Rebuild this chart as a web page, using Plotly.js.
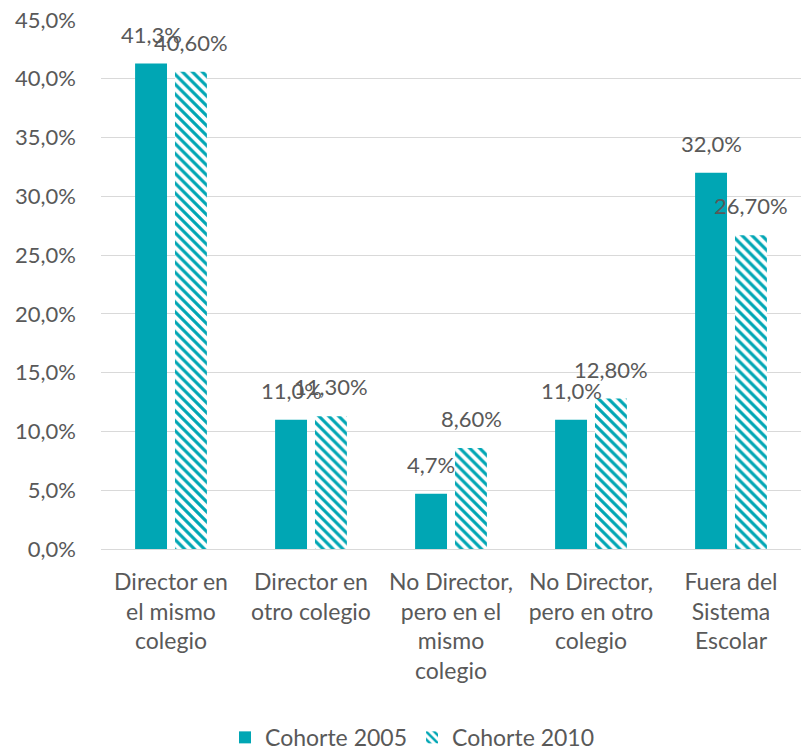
<!DOCTYPE html>
<html>
<head>
<meta charset="utf-8">
<script src="https://cdn.plot.ly/plotly-3.0.1.min.js"></script>
<style>html,body{margin:0;padding:0;background:#fff;}#chart{width:801px;height:754px;}</style>
</head>
<body>
<div id="chart"></div>
<script>
var categories = [
  "Director en<br>el mismo<br>colegio",
  "Director en<br>otro colegio",
  "No Director,<br>pero en el<br>mismo<br>colegio",
  "No Director,<br>pero en otro<br>colegio",
  "Fuera del<br>Sistema<br>Escolar"
];
var cohorte2005 = [41.3, 11.0, 4.7, 11.0, 32.0];
var cohorte2010 = [40.6, 11.3, 8.6, 12.8, 26.7];
var labels2005 = ["41,3%", "11,0%", "4,7%", "11,0%", "32,0%"];
var labels2010 = ["40,60%", "11,30%", "8,60%", "12,80%", "26,70%"];
var yTicks = [0, 5, 10, 15, 20, 25, 30, 35, 40, 45];
var yTickText = ["0,0%", "5,0%", "10,0%", "15,0%", "20,0%", "25,0%", "30,0%", "35,0%", "40,0%", "45,0%"];

var teal = "#00A6B4";
var txt = "#595959";
var fontFam = "Lato, 'Open Sans', sans-serif";

var traces = [
  {
    type: "bar", name: "Cohorte 2005", x: categories, y: cohorte2005,
    marker: {color: teal, line: {width: 0}},
    hoverinfo: "none"
  },
  {
    type: "bar", name: "Cohorte 2010", x: categories, y: cohorte2010,
    marker: {color: "#ffffff", line: {width: 0},
      pattern: {shape: "\\", fgcolor: teal, bgcolor: "#ffffff", size: 7, solidity: 0.45}},
    hoverinfo: "none"
  }
];

var annotations = [];
categories.forEach(function (c, i) {
  annotations.push({x: c, y: cohorte2005[i], text: labels2005[i], showarrow: false,
    xanchor: "center", yanchor: "bottom", xshift: -20, yshift: 14,
    font: {family: fontFam, size: 22, color: txt}});
  annotations.push({x: c, y: cohorte2010[i], text: labels2010[i], showarrow: false,
    xanchor: "center", yanchor: "bottom", xshift: 20, yshift: 14,
    font: {family: fontFam, size: 22, color: txt}});
});

var layout = {
  width: 801, height: 754,
  margin: {l: 101, r: 0, t: 20, b: 205, autoexpand: false},
  paper_bgcolor: "#ffffff", plot_bgcolor: "#ffffff",
  barmode: "group", bargap: 0.43, bargroupgap: 0.2,
  font: {family: fontFam, size: 22, color: txt},
  showlegend: true,
  legend: {orientation: "h", x: 0.515, xanchor: "center", xref: "container",
    y: 0.022, yanchor: "middle", yref: "container",
    font: {family: fontFam, size: 23, color: txt}, itemwidth: 30},
  xaxis: {
    type: "category", showgrid: false, showline: true, linecolor: "#d9d9d9", linewidth: 1,
    ticks: "", tickfont: {family: fontFam, size: 23, color: txt}, ticklabelstandoff: 12,
    automargin: false
  },
  yaxis: {
    range: [0, 45], tickvals: yTicks, ticktext: yTickText,
    showgrid: true, gridcolor: "#d9d9d9", gridwidth: 1, zeroline: false,
    showline: false, ticks: "", ticklabelstandoff: 24, automargin: false,
    tickfont: {family: fontFam, size: 22, color: txt}
  },
  annotations: annotations
};

Plotly.newPlot("chart", traces, layout, {displayModeBar: false, staticPlot: true});
</script>
</body>
</html>
